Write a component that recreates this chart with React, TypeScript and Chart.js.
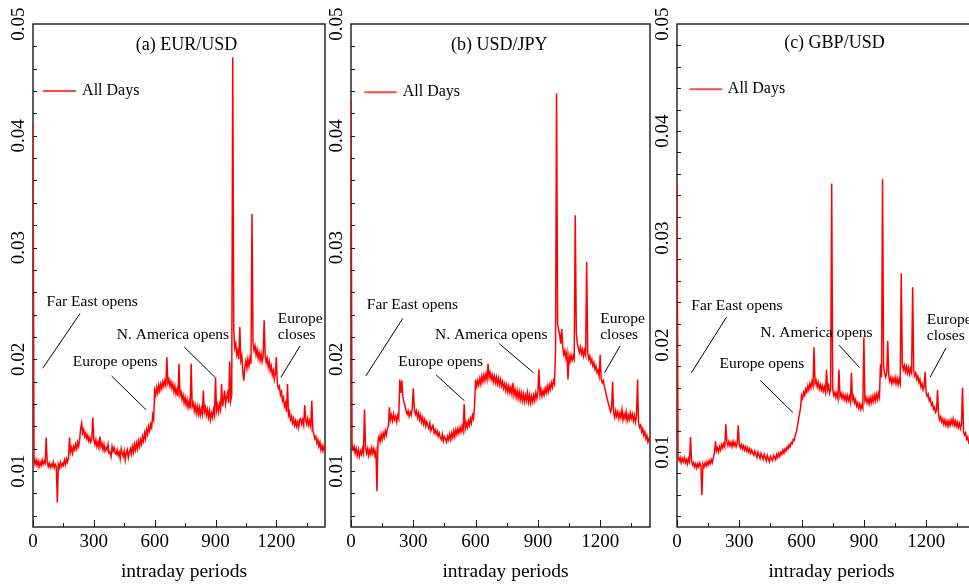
import React, { useEffect, useRef } from 'react';
import { Chart, registerables } from 'chart.js';

Chart.register(...registerables);

const FONT = '"Liberation Serif", "Times New Roman", Times, serif';

// Intraday periods: one value every 5 minutes, 0..1440
const STEP_MINUTES = 5;
const X_MAX = 1440;
const X_TICKS = [0, 150, 300, 450, 600, 750, 900, 1050, 1200, 1350];
const X_LABELS = [0, 300, 600, 900, 1200];
const Y_LABELS = [0.01, 0.02, 0.03, 0.04, 0.05];
const Y_MAX = 0.05;
// series values are given in units of 0.0001
const UNIT = 0.0001;

const EUR_USD = [
  410, 112, 106, 110, 105, 109, 104, 108, 105, 110, 106, 109,
  107, 130, 108, 104, 107, 103, 106, 104, 108, 103, 106, 104,
  72, 106, 103, 108, 104, 107, 105, 110, 106, 111, 108, 112,
  130, 117, 121, 116, 122, 119, 124, 120, 126, 122, 128, 138,
  143, 134, 137, 131, 134, 129, 132, 127, 130, 126, 129, 148,
  128, 124, 128, 122, 126, 121, 131, 122, 125, 119, 124, 118,
  121, 119, 124, 116, 117, 113, 122, 118, 121, 116, 115, 119,
  114, 117, 111, 120, 116, 113, 118, 110, 116, 119, 112, 117,
  120, 115, 122, 117, 124, 119, 125, 120, 127, 122, 128, 124,
  131, 127, 134, 129, 137, 133, 140, 136, 142, 139, 150, 146,
  172, 168, 175, 170, 177, 172, 178, 174, 180, 176, 181, 177,
  202, 179, 182, 176, 180, 174, 178, 171, 176, 169, 173, 167,
  196, 168, 171, 164, 168, 161, 166, 159, 164, 157, 162, 156,
  196, 158, 161, 154, 159, 152, 158, 151, 157, 150, 156, 151,
  172, 153, 157, 150, 155, 148, 154, 146, 152, 148, 155, 150,
  184, 154, 159, 153, 160, 155, 178, 158, 164, 172, 160, 166,
  170, 161, 198, 163, 168, 470, 226, 210, 214, 204, 208, 200,
  229, 199, 203, 188, 181, 194, 199, 192, 200, 194, 201, 196,
  330, 215, 208, 212, 204, 209, 201, 206, 199, 205, 198, 203,
  235, 204, 197, 201, 193, 198, 190, 194, 186, 190, 182, 187,
  202, 178, 174, 176, 168, 171, 163, 166, 158, 161, 153, 178,
  150, 153, 146, 149, 143, 147, 141, 145, 140, 144, 139, 146,
  147, 142, 146, 141, 159, 146, 142, 147, 141, 145, 140, 163,
  136, 133, 129, 131, 125, 128, 122, 126, 119, 123, 118, 122,
  119,
];

const USD_JPY = [
  433, 124, 119, 122, 116, 120, 114, 119, 113, 118, 115, 120,
  116, 155, 121, 116, 120, 114, 119, 115, 121, 116, 120, 114,
  118, 82, 127, 131, 126, 133, 128, 134, 130, 136, 132, 138,
  140, 157, 146, 150, 145, 151, 146, 149, 144, 150, 147, 182,
  170, 181, 166, 162, 158, 154, 151, 154, 149, 153, 150, 156,
  174, 156, 151, 154, 148, 152, 146, 150, 144, 148, 142, 146,
  140, 144, 141, 138, 143, 136, 139, 141, 134, 137, 133, 136,
  131, 134, 130, 128, 133, 127, 131, 129, 126, 131, 128, 133,
  128, 134, 130, 136, 131, 137, 133, 138, 134, 139, 135, 140,
  136, 160, 138, 143, 139, 145, 141, 147, 143, 150, 147, 158,
  182, 176, 181, 177, 183, 178, 185, 180, 186, 181, 187, 182,
  196, 184, 188, 182, 186, 180, 185, 179, 184, 178, 183, 177,
  182, 176, 180, 174, 178, 172, 177, 171, 176, 170, 175, 169,
  179, 168, 173, 166, 172, 165, 171, 164, 170, 163, 169, 162,
  168, 163, 170, 162, 168, 161, 167, 162, 168, 163, 170, 165,
  171, 191, 168, 173, 167, 172, 168, 174, 170, 176, 171, 177,
  173, 179, 175, 181, 178, 207, 438, 232, 226, 222, 214, 227,
  210, 204, 208, 201, 206, 182, 203, 198, 204, 199, 203, 200,
  329, 224, 214, 210, 206, 211, 205, 209, 203, 208, 204, 287,
  206, 200, 203, 197, 200, 194, 197, 191, 194, 188, 190, 185,
  204, 182, 179, 181, 176, 172, 168, 164, 160, 157, 153, 156,
  180, 152, 148, 154, 149, 153, 147, 152, 148, 155, 146, 151,
  147, 153, 145, 150, 146, 152, 147, 151, 145, 150, 144, 149,
  182, 143, 139, 141, 135, 138, 132, 135, 129, 132, 126, 129,
  125,
];

const GBP_USD = [
  351, 96, 92, 95, 90, 94, 91, 95, 90, 93, 89, 94,
  91, 114, 92, 88, 90, 86, 89, 85, 89, 86, 90, 87,
  60, 89, 86, 90, 87, 91, 88, 92, 89, 93, 90, 95,
  99, 110, 101, 104, 100, 105, 102, 107, 104, 108, 105, 126,
  110, 106, 110, 106, 109, 105, 110, 106, 109, 105, 108, 125,
  107, 104, 107, 103, 106, 102, 105, 101, 104, 100, 103, 99,
  102, 99, 97, 101, 98, 95, 100, 97, 94, 99, 96, 93,
  98, 95, 92, 97, 94, 91, 96, 94, 92, 97, 95, 93,
  98, 95, 99, 96, 100, 98, 102, 99, 103, 101, 105, 103,
  107, 105, 109, 108, 112, 111, 116, 119, 124, 130, 136, 141,
  153, 150, 156, 153, 159, 156, 162, 158, 164, 160, 166, 162,
  198, 164, 167, 161, 165, 159, 163, 158, 162, 157, 161, 156,
  177, 158, 162, 155, 159, 351, 158, 153, 156, 151, 155, 150,
  177, 152, 155, 150, 154, 149, 153, 148, 153, 148, 152, 147,
  174, 149, 152, 146, 149, 143, 146, 141, 145, 140, 144, 141,
  207, 148, 151, 146, 150, 145, 151, 146, 152, 147, 153, 148,
  154, 149, 155, 151, 182, 170, 355, 180, 174, 170, 174, 204,
  171, 166, 170, 164, 169, 165, 170, 164, 169, 163, 168, 164,
  267, 182, 177, 181, 175, 180, 174, 179, 173, 178, 174, 254,
  176, 171, 174, 168, 171, 165, 168, 161, 164, 158, 161, 175,
  155, 152, 154, 148, 150, 144, 146, 140, 142, 137, 139, 158,
  134, 130, 133, 128, 131, 126, 130, 125, 129, 124, 129, 125,
  130, 126, 131, 125, 129, 124, 128, 123, 127, 122, 126, 160,
  119, 116, 118, 112, 114, 109, 111, 106, 108, 104, 106, 102,
  104,
];

type Note = { lines: string[]; x: number; y: number; from: [number, number]; to: [number, number] };

const EUR_NOTES: Note[] = [
  { lines: ['Far East opens'], x: 67, y: 0.0251, from: [232, 0.0241], to: [48, 0.0192] },
  { lines: ['Europe opens'], x: 196, y: 0.0198, from: [388, 0.0185], to: [557, 0.0155] },
  { lines: ['N. America opens'], x: 413, y: 0.0222, from: [746, 0.0211], to: [897, 0.0184] },
  { lines: ['Europe', 'closes'], x: 1207, y: 0.0236, from: [1317, 0.0212], to: [1223, 0.0184] },
];

const JPY_NOTES: Note[] = [
  { lines: ['Far East opens'], x: 76, y: 0.0249, from: [249, 0.02365], to: [71, 0.0185] },
  { lines: ['Europe opens'], x: 228, y: 0.01975, from: [410, 0.0186], to: [546, 0.0163] },
  { lines: ['N. America opens'], x: 405, y: 0.0222, from: [714, 0.0214], to: [879, 0.0188] },
  { lines: ['Europe', 'closes'], x: 1200, y: 0.02365, from: [1296, 0.0212], to: [1221, 0.0188] },
];

const GBP_NOTES: Note[] = [
  { lines: ['Far East opens'], x: 69, y: 0.0237, from: [238, 0.0226], to: [69, 0.0174] },
  { lines: ['Europe opens'], x: 205, y: 0.01825, from: [401, 0.0167], to: [558, 0.0137] },
  { lines: ['N. America opens'], x: 401, y: 0.0211, from: [780, 0.02], to: [879, 0.0179] },
  { lines: ['Europe', 'closes'], x: 1203, y: 0.02236, from: [1296, 0.01975], to: [1219, 0.017] },
];

type PanelDef = {
  values: number[];
  notes: Note[];
  title: string;
  titleAt: [number, number];
  legend: { x1: number; x2: number; y: number; textX: number };
  yMin: number;
  canvasLeft: number;
  plotWidth: number;
};

const PANELS: PanelDef[] = [
  {
    values: EUR_USD, notes: EUR_NOTES, title: '(a) EUR/USD', titleAt: [757, 0.0481],
    legend: { x1: 49, x2: 212, y: 0.0440, textX: 242 }, yMin: 0.005, canvasLeft: 0, plotWidth: 292,
  },
  {
    values: USD_JPY, notes: JPY_NOTES, title: '(b) USD/JPY', titleAt: [714, 0.0481],
    legend: { x1: 64, x2: 220, y: 0.0439, textX: 249 }, yMin: 0.005, canvasLeft: 318, plotWidth: 299,
  },
  {
    values: GBP_USD, notes: GBP_NOTES, title: '(c) GBP/USD', titleAt: [758, 0.0482],
    legend: { x1: 61, x2: 218, y: 0.0439, textX: 245 }, yMin: 0.003, canvasLeft: 644, plotWidth: 299,
  },
];

const Y_AXIS_W = 33;
const X_AXIS_H = 59;
const TOP_PAD = 24;
const RIGHT_PAD = 15;
const H = 586;

function Panel({ p }: { p: PanelDef }) {
  const ref = useRef<HTMLCanvasElement>(null);
  const canvasWidth = Y_AXIS_W + p.plotWidth + RIGHT_PAD;

  useEffect(() => {
    const canvas = ref.current;
    if (!canvas) return;
    const points = p.values.map((v, i) => ({ x: i * STEP_MINUTES, y: v * UNIT }));

    const minorY: number[] = [];
    for (let k = Math.ceil((p.yMin * 1000) / 2) * 2; k < 50; k += 2) minorY.push(k / 1000);

    const overlay = {
      id: 'overlay',
      beforeDatasetsDraw(chart: any) {
        const { ctx, chartArea: a } = chart;
        ctx.save();
        ctx.strokeStyle = '#1a1a1a';
        ctx.lineWidth = 1.4;
        ctx.strokeRect(a.left, a.top, a.right - a.left, a.bottom - a.top);
        ctx.restore();
      },
      afterDraw(chart: any) {
        const { ctx, chartArea: a, scales } = chart;
        const X = (v: number) => scales.x.getPixelForValue(v);
        const Y = (v: number) => scales.y.getPixelForValue(v);
        ctx.save();
        ctx.strokeStyle = '#1a1a1a';
        ctx.lineWidth = 1;
        for (const t of minorY) {
          const y = Math.round(Y(t)) + 0.5;
          ctx.beginPath();
          ctx.moveTo(a.left, y);
          ctx.lineTo(a.left + 4, y);
          ctx.stroke();
        }
        for (const t of X_TICKS) {
          const x = Math.round(X(t)) + 0.5;
          const len = X_LABELS.includes(t) ? 7 : 4;
          ctx.beginPath();
          ctx.moveTo(x, a.bottom);
          ctx.lineTo(x, a.bottom - len);
          ctx.stroke();
        }
        // rotated y labels
        ctx.fillStyle = '#000';
        ctx.font = `19px ${FONT}`;
        ctx.textAlign = 'center';
        ctx.textBaseline = 'middle';
        for (const v of Y_LABELS) {
          ctx.save();
          ctx.translate(a.left - 13.5, Y(v));
          ctx.rotate(-Math.PI / 2);
          ctx.fillText(v.toFixed(2), 0, 0);
          ctx.restore();
        }
        // title
        ctx.font = `18px ${FONT}`;
        ctx.fillText(p.title, X(p.titleAt[0]), Y(p.titleAt[1]));
        // legend
        const lg = p.legend;
        ctx.strokeStyle = '#ff4a4a';
        ctx.lineWidth = 2;
        ctx.beginPath();
        ctx.moveTo(X(lg.x1), Y(lg.y));
        ctx.lineTo(X(lg.x2), Y(lg.y));
        ctx.stroke();
        ctx.font = `16px ${FONT}`;
        ctx.textAlign = 'left';
        ctx.fillText('All Days', X(lg.textX), Y(lg.y));
        // notes
        ctx.font = `15.5px ${FONT}`;
        ctx.strokeStyle = '#000';
        ctx.lineWidth = 1;
        for (const n of p.notes) {
          n.lines.forEach((s, k) => ctx.fillText(s, X(n.x), Y(n.y) + k * 16));
          ctx.beginPath();
          ctx.moveTo(X(n.from[0]), Y(n.from[1]));
          ctx.lineTo(X(n.to[0]), Y(n.to[1]));
          ctx.stroke();
        }
        // x axis title
        ctx.font = `19.5px ${FONT}`;
        ctx.textAlign = 'center';
        ctx.textBaseline = 'alphabetic';
        ctx.fillText('intraday periods', (a.left + a.right) / 2 + 5, a.bottom + 50);
        ctx.restore();
      },
    };

    const chart = new Chart(canvas, {
      type: 'line',
      data: {
        datasets: [
          {
            label: 'All Days',
            data: points,
            borderColor: '#ff0000',
            borderWidth: 1.5,
            pointRadius: 0,
            tension: 0,
            fill: false,
          },
        ],
      },
      options: {
        animation: false,
        responsive: false,
        maintainAspectRatio: false,
        events: [],
        layout: { padding: { top: TOP_PAD, left: 0, right: RIGHT_PAD, bottom: 0 } },
        plugins: { legend: { display: false }, tooltip: { enabled: false } },
        scales: {
          x: {
            type: 'linear',
            min: 0,
            max: X_MAX,
            afterFit: (s: any) => {
              s.height = X_AXIS_H;
            },
            grid: { display: false, drawTicks: false },
            border: { display: false },
            ticks: {
              stepSize: 150,
              autoSkip: false,
              maxRotation: 0,
              minRotation: 0,
              padding: 4,
              color: '#000',
              font: { family: FONT, size: 19 },
              callback: (v: any) => (X_LABELS.includes(Number(v)) ? String(v) : ''),
            },
          },
          y: {
            type: 'linear',
            min: p.yMin,
            max: Y_MAX,
            afterFit: (s: any) => {
              s.width = Y_AXIS_W;
            },
            grid: { display: false, drawTicks: false },
            border: { display: false },
            ticks: { display: false },
          },
        },
      },
      plugins: [overlay],
    } as any);
    return () => chart.destroy();
  }, [p]);

  return (
    <canvas
      ref={ref}
      width={canvasWidth}
      height={H}
      style={{ position: 'absolute', left: p.canvasLeft, top: 0, width: canvasWidth, height: H }}
    />
  );
}

export default function App() {
  return (
    <div
      style={{
        position: 'fixed',
        left: 0,
        top: 0,
        width: 969,
        height: 586,
        overflow: 'hidden',
        background: '#fff',
      }}
    >
      {PANELS.map((p, i) => (
        <Panel key={i} p={p} />
      ))}
    </div>
  );
}
